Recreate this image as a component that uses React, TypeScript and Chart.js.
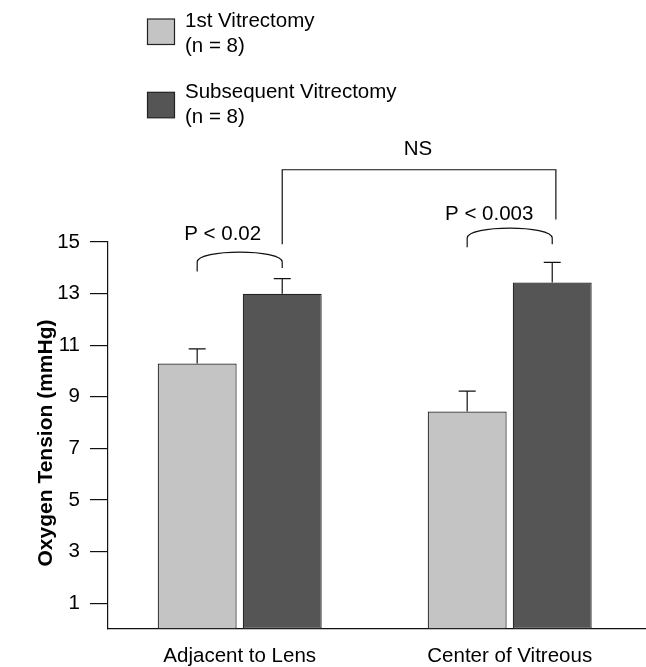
import React, { useEffect, useRef } from 'react';
import { Chart, registerables } from 'chart.js';

Chart.register(...registerables);

// ---- data ----
const categories = ['Adjacent to Lens', 'Center of Vitreous'];
const seriesNames = ['1st Vitrectomy', 'Subsequent Vitrectomy'];
const seriesCounts = ['(n = 8)', '(n = 8)'];
const firstVitrectomy = [10.29, 8.43];
const subsequentVitrectomy = [12.99, 13.43];
const firstError = [0.57, 0.79];
const subsequentError = [0.59, 0.78];
const yTicks = [1, 3, 5, 7, 9, 11, 13, 15];
const pLabels = ['P < 0.02', 'P < 0.003'];
const nsLabel = 'NS';
const yTitle = 'Oxygen Tension (mmHg)';

// ---- styles / annotation geometry (in axis units) ----
const FONT = "'Liberation Sans', Arial, Helvetica, sans-serif";
const FILL = ['#c4c4c4', '#555555'];
const EDGE = '#222222';
const INK = '#111111';
const FS = 20.5;

const pBrackets = [
  { cat: 0, textX: -0.063, textY: 15.09, top: 14.61, leftEnd: 13.86, rightEnd: 13.99 },
  { cat: 1, textX: 0.924, textY: 15.84, top: 15.54, leftEnd: 14.8, rightEnd: 14.91 },
];
const nsBracket = { textX: 0.66, textY: 18.39, lineY: 17.8, leftEnd: 14.91, rightX: 1.171, rightEnd: 15.87 };

const annotationPlugin = {
  id: 'annotations',
  afterDatasetsDraw(chart: any) {
    const { ctx } = chart;
    const x = chart.scales.x;
    const y = chart.scales.y;
    ctx.save();
    ctx.strokeStyle = INK;
    ctx.fillStyle = '#000';
    ctx.lineWidth = 1.2;

    // error bars
    const vals = [firstVitrectomy, subsequentVitrectomy];
    const errs = [firstError, subsequentError];
    for (let d = 0; d < 2; d++) {
      const meta = chart.getDatasetMeta(d);
      meta.data.forEach((bar: any, j: number) => {
        const top = y.getPixelForValue(vals[d][j] + errs[d][j]);
        ctx.beginPath();
        ctx.moveTo(bar.x, bar.y);
        ctx.lineTo(bar.x, top);
        ctx.moveTo(bar.x - 8.5, top);
        ctx.lineTo(bar.x + 8.5, top);
        ctx.stroke();
      });
    }

    // p-value brackets
    ctx.font = `${FS}px ${FONT}`;
    ctx.textAlign = 'center';
    ctx.textBaseline = 'alphabetic';
    const bend = 10;
    pBrackets.forEach((b, i) => {
      const x1 = chart.getDatasetMeta(0).data[b.cat].x;
      const x2 = chart.getDatasetMeta(1).data[b.cat].x;
      const yl = y.getPixelForValue(b.leftEnd);
      const yr = y.getPixelForValue(b.rightEnd);
      const yt = y.getPixelForValue(b.top);
      const c = yt - bend / 3;
      ctx.beginPath();
      ctx.moveTo(x1, yl);
      ctx.lineTo(x1, yt + bend);
      ctx.bezierCurveTo(x1, c, x2, c, x2, yt + bend);
      ctx.lineTo(x2, yr);
      ctx.stroke();
      ctx.fillText(pLabels[i], x.getPixelForValue(b.textX), y.getPixelForValue(b.textY));
    });

    // NS bracket
    const xl = chart.getDatasetMeta(1).data[0].x;
    const xr = x.getPixelForValue(nsBracket.rightX);
    const yLine = y.getPixelForValue(nsBracket.lineY);
    ctx.beginPath();
    ctx.moveTo(xl, y.getPixelForValue(nsBracket.leftEnd));
    ctx.lineTo(xl, yLine);
    ctx.lineTo(xr, yLine);
    ctx.lineTo(xr, y.getPixelForValue(nsBracket.rightEnd));
    ctx.stroke();
    ctx.fillText(nsLabel, x.getPixelForValue(nsBracket.textX), y.getPixelForValue(nsBracket.textY));

    // y-axis title
    ctx.save();
    ctx.translate(46.5, 443);
    ctx.rotate(-Math.PI / 2);
    ctx.font = `bold 21px ${FONT}`;
    ctx.textBaseline = 'middle';
    ctx.fillText(yTitle, 0, 0);
    ctx.restore();

    // legend
    const sqTop = [19, 92.3];
    const base = [[26.5, 51.5], [97.5, 123]];
    ctx.textAlign = 'left';
    ctx.font = `${FS}px ${FONT}`;
    seriesNames.forEach((name, i) => {
      ctx.fillStyle = FILL[i];
      ctx.fillRect(147.5, sqTop[i], 27, 25.5);
      ctx.strokeStyle = EDGE;
      ctx.strokeRect(147.5, sqTop[i], 27, 25.5);
      ctx.fillStyle = '#000';
      ctx.fillText(name, 185, base[i][0]);
      ctx.fillText(seriesCounts[i], 185, base[i][1]);
    });
    ctx.restore();
  },
};

export default function App() {
  const ref = useRef<HTMLCanvasElement>(null);
  useEffect(() => {
    if (!ref.current) return;
    const chart = new Chart(ref.current, {
      type: 'bar',
      data: {
        datasets: [
          {
            label: seriesNames[0],
            data: firstVitrectomy.map((v, i) => ({ x: i, y: v })),
            backgroundColor: FILL[0],
            borderColor: EDGE,
            borderWidth: 1.2,
            borderSkipped: false,
          },
          {
            label: seriesNames[1],
            data: subsequentVitrectomy.map((v, i) => ({ x: i, y: v })),
            backgroundColor: FILL[1],
            borderColor: EDGE,
            borderWidth: 1.2,
            borderSkipped: false,
          },
        ],
      },
      options: {
        responsive: false,
        animation: false,
        events: [],
        categoryPercentage: 0.63,
        barPercentage: 0.928,
        layout: { padding: { top: 242, left: 0, right: 0, bottom: 0 } },
        plugins: { legend: { display: false }, tooltip: { enabled: false } },
        scales: {
          x: {
            type: 'linear',
            offset: false,
            bounds: 'data',
            min: -0.4878,
            max: 1.5048,
            grid: { display: false, drawTicks: false, offset: false },
            border: { display: true, color: INK, width: 1.2 },
            ticks: {
              color: '#000',
              font: { family: FONT, size: FS },
              padding: 14.8,
              maxRotation: 0,
              autoSkip: false,
              callback: (v: any) => categories[v] ?? '',
            },
            afterBuildTicks: (s: any) => {
              s.ticks = categories.map((_, i) => ({ value: i }));
            },
            afterFit: (s: any) => {
              s.height = 38;
            },
          },
          y: {
            min: 0,
            max: 15,
            grid: { display: true, drawOnChartArea: false, drawTicks: true, tickLength: 18, color: INK, lineWidth: 1.2 },
            border: { display: true, color: INK, width: 1.2 },
            ticks: {
              color: '#000',
              font: { family: FONT, size: FS },
              padding: 10,
            },
            afterBuildTicks: (s: any) => {
              s.ticks = yTicks.map((v) => ({ value: v }));
            },
            afterFit: (s: any) => {
              s.width = 108;
            },
          },
        },
      } as any,
      plugins: [annotationPlugin],
    });
    return () => chart.destroy();
  }, []);
  return (
    <div style={{ position: 'absolute', left: 0, top: 0, width: 646, height: 667 }}>
      <canvas ref={ref} width={646} height={667} style={{ display: 'block' }} />
    </div>
  );
}
